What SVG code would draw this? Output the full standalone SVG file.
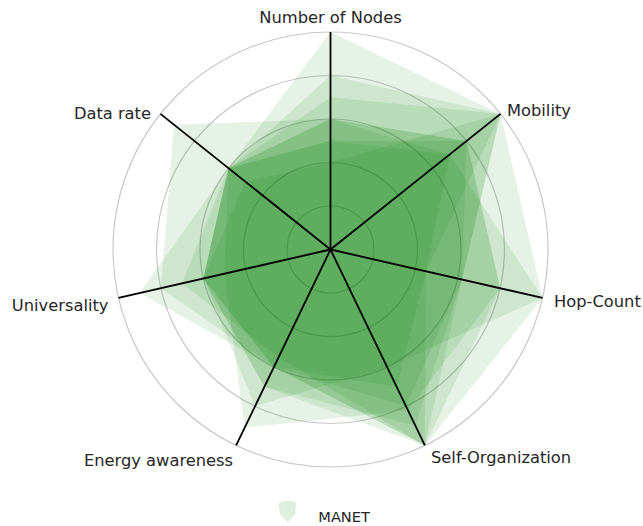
<svg xmlns="http://www.w3.org/2000/svg" width="643" height="526" viewBox="0 0 643 526">
<style>
.grid{fill:none;stroke:#c8c8c8;stroke-width:1.2}
.ser{fill:#008000;fill-opacity:0.1;stroke:none}
.axis{stroke:#000;stroke-width:1.8;stroke-linecap:butt}
.lbl{font-family:"DejaVu Sans","Liberation Sans",sans-serif;font-size:16.3px;fill:#262626}
.leg{font-family:"DejaVu Sans","Liberation Sans",sans-serif;font-size:14.6px;fill:#262626}
</style>
<rect width="643" height="526" fill="#ffffff"/>
<g id="grid">
<circle class="grid" cx="330.5" cy="249.5" r="43.5"/>
<circle class="grid" cx="330.5" cy="249.5" r="87"/>
<circle class="grid" cx="330.5" cy="249.5" r="130.5"/>
<circle class="grid" cx="330.5" cy="249.5" r="174"/>
<circle class="grid" cx="330.5" cy="249.5" r="217.5"/>
</g>
<g id="series-MANET">
<polygon class="ser" points="330.5,32 500.55,113.89 461.97,279.51 424.87,445.46 264.44,386.67 203.27,278.54 228.47,168.13"/>
<polygon class="ser" points="330.5,119 466.54,141.01 461.97,279.51 406,406.27 273.88,367.08 160.86,288.22 174.05,124.74"/>
<polygon class="ser" points="330.5,97.25 500.55,113.89 542.55,297.9 424.87,445.46 273.88,367.08 203.27,278.54 228.47,168.13"/>
<polygon class="ser" points="330.5,140.75 466.54,141.01 500.14,288.22 407.88,410.19 244.62,427.82 224.47,273.7 228.47,168.13"/>
<polygon class="ser" points="330.5,75.5 500.55,113.89 425.92,271.28 424.87,445.46 273.88,367.08 139.65,293.06 228.47,168.13"/>
<polygon class="ser" points="330.5,119 449.54,154.57 542.55,297.9 387.12,367.08 255,406.27 203.27,278.54 228.47,168.13"/>
<polygon class="ser" points="330.5,162.5 500.55,113.89 461.97,279.51 415.43,425.86 264.44,386.67 203.27,278.54 245.47,181.7"/>
<polygon class="ser" points="330.5,119 466.54,141.01 500.14,288.22 424.87,445.46 278.6,357.28 182.06,283.38 228.47,168.13"/>
<polygon class="ser" points="330.5,140.75 449.54,154.57 425.92,271.28 396.56,386.67 273.88,367.08 203.27,278.54 228.47,168.13"/>
</g>
<g id="axes">
<line class="axis" x1="330.5" y1="249.5" x2="330.5" y2="32"/>
<line class="axis" x1="330.5" y1="249.5" x2="500.55" y2="113.89"/>
<line class="axis" x1="330.5" y1="249.5" x2="542.55" y2="297.9"/>
<line class="axis" x1="330.5" y1="249.5" x2="424.87" y2="445.46"/>
<line class="axis" x1="330.5" y1="249.5" x2="236.13" y2="445.46"/>
<line class="axis" x1="330.5" y1="249.5" x2="118.45" y2="297.9"/>
<line class="axis" x1="330.5" y1="249.5" x2="160.45" y2="113.89"/>
</g>
<g id="labels">
<text class="lbl" x="330.5" y="23.3" text-anchor="middle">Number of Nodes</text>
<text class="lbl" x="507" y="116">Mobility</text>
<text class="lbl" x="554" y="306.7">Hop-Count</text>
<text class="lbl" x="431" y="462.7">Self-Organization</text>
<text class="lbl" x="158.5" y="466" text-anchor="middle">Energy awareness</text>
<text class="lbl" x="108.5" y="311" text-anchor="end">Universality</text>
<text class="lbl" x="151" y="119.3" text-anchor="end">Data rate</text>
</g>
<g id="legend">
<path d="M279,503.5 Q287.5,499 296,503.5 L294.5,514.5 L287.5,521.5 L280.5,514.5 Z" fill="#008000" fill-opacity="0.12" stroke="#008000" stroke-opacity="0.08" stroke-width="1"/>
<text class="leg" x="318.3" y="521.7">MANET</text>
</g>
</svg>
